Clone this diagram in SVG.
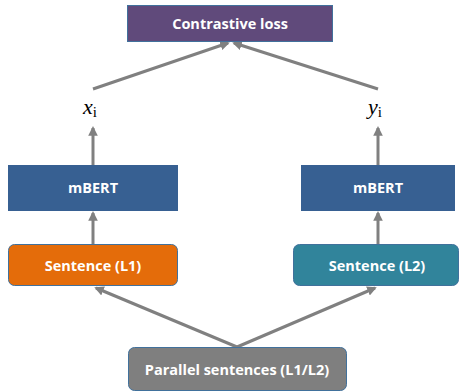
<svg xmlns="http://www.w3.org/2000/svg" width="459" height="392" viewBox="0 0 459 392">
<defs>
<style>
.lbl{font-family:"Open Sans","Noto Sans","Liberation Sans",sans-serif;font-weight:bold;font-size:14.5px;fill:#fff;text-anchor:middle}
.math{font-family:"Liberation Serif","DejaVu Serif",serif;font-size:22px;fill:#000}
.edge{stroke:#808080;stroke-width:3;fill:none;marker-end:url(#ah)}
.box{stroke:#41719C;stroke-width:1}
</style>
<marker id="ah" viewBox="0 0 10 10" refX="8" refY="5" markerWidth="3.2" markerHeight="3.2" orient="auto" markerUnits="strokeWidth">
<path d="M0,0 L10,5 L0,10 z" fill="#808080"/>
</marker>
</defs>
<rect width="459" height="392" fill="#fff"/>
<g id="connectors">
<line class="edge" x1="93" y1="165" x2="93" y2="128"/>
<line class="edge" x1="378" y1="165" x2="378" y2="128"/>
<line class="edge" x1="93" y1="244" x2="93" y2="213"/>
<line class="edge" x1="378" y1="244" x2="378" y2="213"/>
<line class="edge" x1="93" y1="89" x2="228" y2="43"/>
<line class="edge" x1="378" y1="89" x2="234" y2="43"/>
<line class="edge" x1="237" y1="347" x2="96" y2="288"/>
<line class="edge" x1="237" y1="347" x2="375" y2="288"/>
</g>
<g id="contrastive">
<rect class="box" x="127.5" y="5.5" width="205" height="36" fill="#604A7B"/>
<text class="lbl" x="230" y="28.5">Contrastive loss</text>
</g>
<g id="xi"><text class="math" x="83" y="114" font-style="italic">x<tspan font-style="normal" font-size="15" dy="3">i</tspan></text></g>
<g id="yi"><text class="math" x="368" y="114" font-style="italic">y<tspan font-style="normal" font-size="15" dy="3">i</tspan></text></g>
<g id="mbert1">
<rect x="8" y="165" width="170" height="46" fill="#376092"/>
<text class="lbl" x="93" y="193">mBERT</text>
</g>
<g id="mbert2">
<rect x="301" y="165" width="154" height="46" fill="#376092"/>
<text class="lbl" x="378" y="193">mBERT</text>
</g>
<g id="sent1">
<rect class="box" x="8.5" y="244.5" width="169" height="41" rx="6" fill="#E46C0A"/>
<text class="lbl" x="93" y="270.5">Sentence (L1)</text>
</g>
<g id="sent2">
<rect class="box" x="293.5" y="244.5" width="165" height="41" rx="6" fill="#31849B"/>
<text class="lbl" x="377" y="270.5">Sentence (L2)</text>
</g>
<g id="parallel">
<rect class="box" x="128.5" y="347.5" width="218" height="43" rx="6" fill="#7F7F7F"/>
<text class="lbl" x="237" y="374.5">Parallel sentences (L1/L2)</text>
</g>
</svg>
